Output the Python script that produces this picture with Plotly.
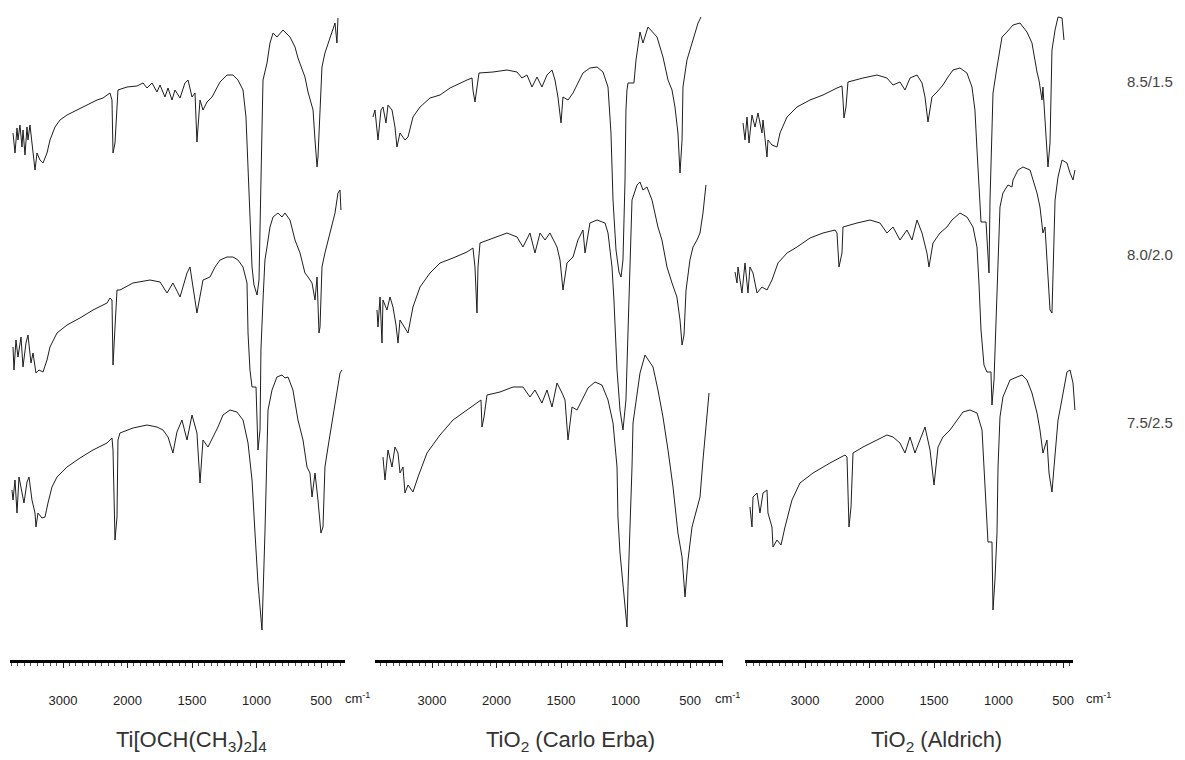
import plotly.graph_objects as go

# ---------------- data (wavenumber cm-1, transmittance a.u. incl. stacking offset) ----------------
# Panel 1 : Ti[OCH(CH3)2]4
p1_85_wn = [3775,3744,3713,3698,3667,3636,3620,3589,3558,3543,3512,3481,3465,3434,3403,3357,3310,3248,3202,3124,
            3047,2938,2783,2628,2473,2380,2303,2272,2241,2225,2194,2163,2148,2008,1927,1880,1849,1810,1772,1748,
            1710,1686,1655,1632,1593,1555,1531,1500,1477,1462,1438,1415,1384,1345,1307,1283,1229,1183,1144,1105,
            1082,1066,1051,1035,1020,996,981,966,958,950,919,896,872,842,795,741,702,679,648,625,
            601,586,562,547,531,524,508,493,470,431,392,377,369]
p1_85_t = [527,507,532,520,535,513,530,505,533,520,535,517,513,490,507,500,497,507,520,533,
           540,545,550,555,560,562,565,567,560,507,517,553,570,573,574,577,572,577,568,575,
           563,572,560,570,562,577,580,563,567,518,560,550,558,563,573,578,585,585,580,570,
           543,493,460,393,375,365,380,460,530,580,597,617,627,623,630,623,613,602,590,583,
           568,560,550,520,493,503,550,593,607,623,637,617,642]

p1_80_wn = [3775,3760,3729,3698,3651,3620,3574,3543,3496,3465,3419,3372,3310,3248,3202,3093,2938,2737,2535,2318,
            2272,2241,2225,2194,2163,2117,1958,1826,1748,1694,1648,1593,1539,1516,1492,1462,1415,1361,1322,1283,
            1229,1183,1144,1105,1074,1066,1051,1035,1004,989,973,966,950,935,919,896,872,834,803,780,
            741,702,663,625,601,570,547,531,516,508,493,470,431,392,369,353,346]
p1_80_t = [313,290,320,303,323,293,317,325,297,307,287,290,288,300,313,327,335,342,350,357,
           362,360,295,330,370,370,377,380,378,367,377,363,387,393,373,347,380,383,393,400,
           403,403,400,393,377,327,290,273,273,210,230,310,360,400,413,433,443,447,443,447,
           440,420,407,387,383,377,360,383,327,333,393,407,427,447,467,470,450]

p1_75_wn = [3791,3775,3744,3713,3682,3636,3605,3558,3527,3481,3434,3419,3388,3326,3279,3233,3171,3093,2938,2737,
            2535,2318,2241,2225,2194,2163,2148,2117,1958,1849,1772,1725,1686,1648,1617,1578,1539,1500,1462,1438,
            1415,1376,1338,1299,1260,1206,1152,1105,1066,1035,1012,989,958,950,935,919,911,880,842,803,
            780,756,718,679,640,609,586,570,547,524,501,485,470,446,408,377,353,338]
p1_75_t = [170,160,180,147,183,167,157,178,183,160,147,133,147,142,143,157,173,183,193,202,
           210,217,222,210,120,143,220,227,232,235,233,230,223,207,228,240,220,245,227,177,
           220,213,223,233,245,250,248,240,217,180,127,77,30,60,127,210,250,270,283,285,
           282,283,270,240,220,193,187,163,187,160,127,133,193,213,243,270,287,290]

# Panel 2 : TiO2 (Carlo Erba)
p2_85_wn = [3915,3884,3853,3837,3791,3760,3713,3682,3620,3574,3543,3496,3419,3372,3295,3186,3031,2876,2721,2566,
            2458,2380,2365,2334,2303,2272,2055,1919,1841,1803,1764,1725,1686,1648,1609,1570,1547,1524,1500,1485,
            1446,1407,1369,1330,1276,1221,1175,1136,1113,1097,1074,1051,1035,1020,1004,997,989,981,935,919,
            888,865,826,756,710,671,640,617,594,578,562,555,524,477,438,415]
p2_85_t = [543,550,530,520,550,553,537,555,550,533,513,527,520,523,543,553,562,565,572,577,
           580,582,570,558,573,587,588,590,588,582,585,573,583,573,585,590,580,563,537,563,
           560,567,577,587,592,593,588,573,527,460,410,388,383,400,480,550,570,577,577,600,
           628,617,633,623,603,580,570,553,527,487,520,573,600,620,637,643]

p2_80_wn = [3853,3837,3806,3775,3760,3698,3651,3605,3558,3527,3496,3450,3372,3295,3186,3031,2876,2675,2458,2365,
            2334,2303,2287,2256,2055,1919,1841,1795,1741,1702,1663,1624,1586,1531,1508,1485,1454,1407,1369,1330,
            1314,1276,1221,1159,1136,1105,1090,1066,1043,1020,997,981,966,950,911,888,865,834,795,749,
            718,679,640,602,578,562,547,531,501,477,446,423,400,377]
p2_80_t = [350,333,363,317,360,350,363,353,335,317,340,335,327,353,373,387,397,402,408,412,
           393,347,393,417,422,427,423,413,427,407,427,420,427,413,400,370,397,403,420,430,
           407,437,440,437,427,393,360,290,250,230,260,330,410,460,475,478,470,473,460,433,
           420,393,377,363,340,315,325,370,400,413,420,427,447,475]

p2_75_wn = [3760,3729,3682,3620,3574,3527,3496,3450,3419,3372,3295,3217,3078,2876,2675,2458,2287,2241,2225,2194,
            2148,1973,1872,1795,1741,1702,1648,1609,1570,1531,1492,1469,1446,1415,1376,1338,1291,1237,1183,1136,
            1097,1066,1059,1043,1020,989,981,966,950,942,919,888,849,811,787,749,710,671,632,594,
            562,539,516,485,446,423,400,369,353]
p2_75_t = [203,180,210,193,213,207,187,193,167,175,168,183,207,225,240,250,258,260,233,243,
           265,268,273,273,263,270,257,270,253,277,267,260,220,253,250,260,272,278,275,260,
           237,193,143,107,77,33,73,127,193,237,260,287,305,297,293,270,243,210,173,127,
           103,63,100,133,153,163,200,250,267]

# Panel 3 : TiO2 (Aldrich)
p3_85_wn = [3961,3930,3899,3868,3822,3775,3729,3667,3651,3589,3574,3512,3434,3388,3279,3124,2923,2721,2504,2427,
            2411,2396,2365,2334,2101,1942,1865,1818,1764,1725,1686,1632,1593,1570,1547,1516,1477,1431,1392,1353,
            1299,1245,1206,1183,1167,1152,1136,1097,1074,1066,1051,1043,1012,973,935,888,834,780,741,718,
            702,687,663,656,640,625,617,601,594,586,562,539,508,501,493]
p3_85_t = [537,520,543,517,545,533,547,527,540,503,520,515,513,527,543,553,560,565,572,574,
           560,542,553,578,582,585,582,575,578,570,582,585,577,563,538,563,568,575,583,590,
           592,587,573,550,510,470,438,438,387,460,527,567,593,623,628,635,637,628,617,597,
           588,580,560,573,537,507,493,517,560,610,630,643,642,627,620]

p3_80_wn = [4085,4054,4038,3977,3930,3884,3853,3806,3744,3667,3589,3512,3419,3279,3124,2923,2721,2535,2504,2473,
            2427,2411,2194,1996,1919,1865,1818,1764,1710,1671,1632,1593,1555,1539,1508,1454,1400,1361,1299,1245,
            1198,1167,1152,1136,1113,1090,1059,1051,1035,1012,997,989,966,927,896,888,849,811,756,733,
            702,679,656,640,617,601,586,578,562,539,508,470,446,423,408]
p3_80_t = [388,377,393,367,397,367,393,387,367,373,370,380,397,407,413,422,427,430,427,393,
           407,433,437,440,437,427,433,420,430,420,440,427,407,393,417,427,433,440,447,443,
           433,413,377,330,295,288,288,255,280,360,427,453,467,475,473,480,490,493,490,480,
           467,453,427,433,387,350,347,387,460,483,500,497,487,480,490]

p3_75_wn = [3853,3822,3806,3744,3698,3651,3589,3574,3512,3496,3434,3372,3310,3202,3078,2876,2613,2380,2349,2334,
            2318,2287,2256,2101,1942,1865,1818,1764,1725,1686,1648,1609,1570,1531,1500,1469,1431,1376,1322,1276,
            1221,1167,1128,1113,1097,1082,1051,1043,1028,1012,1004,989,966,911,857,818,780,741,702,679,
            656,625,609,586,570,555,539,524,501,470,446,423,408]
p3_75_t = [153,133,163,167,147,167,170,147,133,113,120,115,133,160,177,187,197,205,203,160,
           133,153,207,213,220,225,223,217,207,223,207,220,233,210,175,213,223,230,240,248,
           250,247,230,193,153,118,118,50,80,127,193,243,263,280,283,285,280,267,247,230,
           207,220,187,168,193,220,240,250,267,288,290,277,250]

tick_wn = [3000, 2000, 1500, 1000, 500]
tick_text = ["3000", "2000", "1500", "1000", "500"]
panel_titles = ["Ti[OCH(CH<sub>3</sub>)<sub>2</sub>]<sub>4</sub>",
                "TiO<sub>2</sub> (Carlo Erba)",
                "TiO<sub>2</sub> (Aldrich)"]
ratio_labels = ["8.5/1.5", "8.0/2.0", "7.5/2.5"]

panels = [
    [(p1_85_wn, p1_85_t), (p1_80_wn, p1_80_t), (p1_75_wn, p1_75_t)],
    [(p2_85_wn, p2_85_t), (p2_80_wn, p2_80_t), (p2_75_wn, p2_75_t)],
    [(p3_85_wn, p3_85_t), (p3_80_wn, p3_80_t), (p3_75_wn, p3_75_t)],
]
for pan in panels:
    for w, t in pan:
        assert len(w) == len(t), (len(w), len(t))


# IR chart scale: compressed by 2 above 2000 cm-1
def to_axis(wn):
    return wn if wn <= 2000 else 2000 + (wn - 2000) / 2.0


# ---------------- layout geometry ----------------
W, H = 1185, 760
M_T, M_B = 10, 100
PLOT_H = H - M_T - M_B
UNITS_PER_PX = 7.75
# (data domain left px, data domain right px, px of 3000 tick, axis line left px, axis line right px)
geo = [(10, 345, 63, 10, 345), (372, 723, 432, 375, 723), (733, 1076, 805, 745, 1073)]
label_x = [357, 727, 1098]
title_x = [191, 570, 936]


def py_to_paper(py):
    return (H - M_B - py) / PLOT_H


def px_range(left, right, p0):
    u3000 = to_axis(3000)
    return [u3000 + (p0 - left) * UNITS_PER_PX, u3000 - (right - p0) * UNITS_PER_PX]


fig = go.Figure()
line_color = "#1e1e1e"
for i, pan in enumerate(panels):
    # invisible carrier so the wavenumber scale axis of this panel is drawn
    fig.add_trace(go.Scatter(
        x=[to_axis(v) for v in tick_wn], y=[0] * len(tick_wn),
        xaxis="x%d" % (i + 4), yaxis="y", mode="markers",
        marker=dict(size=1, opacity=0), showlegend=False, hoverinfo="skip"))
for i, pan in enumerate(panels):
    xa = "x" if i == 0 else "x%d" % (i + 1)
    for w, t in pan:
        fig.add_trace(go.Scatter(
            x=[to_axis(v) for v in w], y=t, xaxis=xa, yaxis="y",
            mode="lines", line=dict(color=line_color, width=1.0),
            showlegend=False, hoverinfo="skip"))

font_main = "Liberation Sans, Arial, sans-serif"
layout_axes = {}
annotations = []
for i, (dl, dr, p0, al, ar) in enumerate(geo):
    key = "xaxis" if i == 0 else "xaxis%d" % (i + 1)
    layout_axes[key] = dict(
        domain=[dl / W, dr / W], range=px_range(dl, dr, p0), anchor="y",
        showline=False, showgrid=False, zeroline=False, ticks="",
        showticklabels=False, fixedrange=True,
    )
    key2 = "xaxis%d" % (i + 4)
    layout_axes[key2] = dict(
        domain=[al / W, ar / W], range=px_range(al, ar, p0), anchor="y",
        showline=True, linewidth=3, linecolor="black",
        showgrid=False, zeroline=False,
        tickmode="array", tickvals=[to_axis(v) for v in tick_wn], ticktext=tick_text,
        ticks="outside", ticklen=5, tickwidth=1, tickcolor="#222",
        tickfont=dict(family=font_main, size=13, color="#222"),
        ticklabelstandoff=21,
        minor=dict(tickmode="linear", tick0=0, dtick=50, ticks="outside",
                   ticklen=3, tickwidth=1, tickcolor="#555"),
        fixedrange=True,
    )
    annotations.append(dict(text="cm<sup>-1</sup>", xref="paper", yref="paper",
                            x=label_x[i] / W, y=py_to_paper(698), showarrow=False,
                            xanchor="center", yanchor="middle",
                            font=dict(family=font_main, size=13, color="#222")))
    annotations.append(dict(text=panel_titles[i], xref="paper", yref="paper",
                            x=title_x[i] / W, y=py_to_paper(741), showarrow=False,
                            xanchor="center", yanchor="middle",
                            font=dict(family=font_main, size=22, color="#333")))

for lbl, py in zip(ratio_labels, [82, 254, 422]):
    annotations.append(dict(text=lbl, xref="paper", yref="paper",
                            x=1150 / W, y=py_to_paper(py), showarrow=False,
                            xanchor="center", yanchor="middle",
                            font=dict(family=font_main, size=15, color="#444")))

fig.update_layout(
    width=W, height=H,
    margin=dict(l=0, r=0, t=M_T, b=M_B),
    paper_bgcolor="white", plot_bgcolor="rgba(0,0,0,0)",
    yaxis=dict(domain=[0, 1], range=[0, PLOT_H], visible=False, fixedrange=True),
    annotations=annotations,
    hovermode=False,
    **layout_axes,
)

fig.write_html("out.html", config={"displayModeBar": False},
               post_script="document.body.style.margin='0';document.body.style.overflow='hidden';")
